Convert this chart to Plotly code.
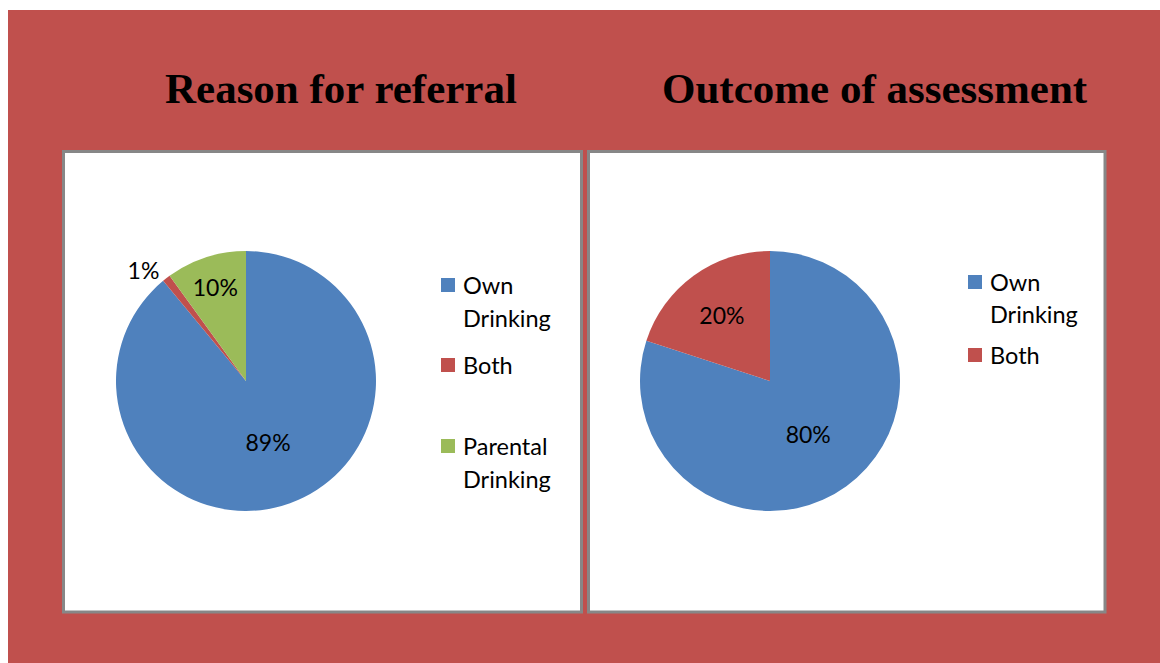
import plotly.graph_objects as go

# Chart data
referral_labels = ["Own Drinking", "Both", "Parental Drinking"]
referral_values = [89, 1, 10]
outcome_labels = ["Own Drinking", "Both"]
outcome_values = [80, 20]

titles = ["Reason for referral", "Outcome of assessment"]

BLUE, RED, GREEN = "#4F81BD", "#C0504D", "#9BBB59"
referral_colors = [BLUE, RED, GREEN]
outcome_colors = [BLUE, RED]

W, H = 1160, 663
LABEL_FONT = "Lato, 'Open Sans', sans-serif"


def px(x):
    return x / W


def py(y):
    return 1 - y / H


def pie_domain(cx, cy, r):
    return dict(x=[px(cx - r), px(cx + r)], y=[py(cy + r), py(cy - r)])


fig = go.Figure()

fig.add_trace(go.Pie(
    labels=referral_labels, values=referral_values,
    marker=dict(colors=referral_colors, line=dict(width=0)),
    sort=False, direction="clockwise", rotation=0,
    texttemplate="%{percent:.0%}",
    textposition=["inside", "outside", "inside"],
    insidetextorientation="horizontal",
    textfont=dict(family=LABEL_FONT, size=23, color="black"),
    domain=pie_domain(246, 381, 130),
    showlegend=False, hoverinfo="label+percent",
))

fig.add_trace(go.Pie(
    labels=outcome_labels, values=outcome_values,
    marker=dict(colors=outcome_colors, line=dict(width=0)),
    sort=False, direction="clockwise", rotation=0,
    texttemplate="%{percent:.0%}",
    textposition="inside",
    insidetextorientation="horizontal",
    textfont=dict(family=LABEL_FONT, size=23, color="black"),
    domain=pie_domain(770, 381, 130),
    showlegend=False, hoverinfo="label+percent",
))

shapes = [
    # red backdrop
    dict(type="rect", xref="paper", yref="paper", x0=px(8), x1=1, y0=0, y1=py(10),
         fillcolor=RED, line=dict(width=0), layer="below"),
    # two white chart panels
    dict(type="rect", xref="paper", yref="paper", x0=px(63.5), x1=px(581.5),
         y0=py(612), y1=py(151.5), fillcolor="white",
         line=dict(color="#878787", width=3), layer="below"),
    dict(type="rect", xref="paper", yref="paper", x0=px(588.5), x1=px(1105),
         y0=py(612), y1=py(151.5), fillcolor="white",
         line=dict(color="#878787", width=3), layer="below"),
]

annotations = []
for text, cx in zip(titles, [340.5, 875]):
    annotations.append(dict(
        text=f"<b>{text}</b>", x=px(cx), y=py(89), xref="paper", yref="paper",
        showarrow=False, xanchor="center", yanchor="middle",
        font=dict(family="'Liberation Serif', 'Times New Roman', serif", size=43, color="black"),
    ))


def add_legend(labels, colors, mx, tx, rows):
    # rows: list of text-line y centres for each entry
    for label, color, ys in zip(labels, colors, rows):
        words = label.split(" ")
        shapes.append(dict(type="rect", xref="paper", yref="paper",
                           x0=px(mx), x1=px(mx + 14), y0=py(ys[0] + 7), y1=py(ys[0] - 7),
                           fillcolor=color, line=dict(width=0)))
        for word, y in zip(words, ys):
            annotations.append(dict(
                text=word, x=px(tx), y=py(y), xref="paper", yref="paper",
                showarrow=False, xanchor="left", yanchor="middle",
                font=dict(family=LABEL_FONT, size=23.5, color="black"),
            ))


add_legend(referral_labels, referral_colors, 441, 461,
           [(285, 318), (365,), (446, 479)])
add_legend(outcome_labels, outcome_colors, 968, 988,
           [(282, 314), (355,)])

fig.update_layout(
    width=W, height=H,
    margin=dict(l=0, r=0, t=0, b=0),
    paper_bgcolor="white", plot_bgcolor="white",
    shapes=shapes, annotations=annotations,
)

fig.write_html("out.html")
